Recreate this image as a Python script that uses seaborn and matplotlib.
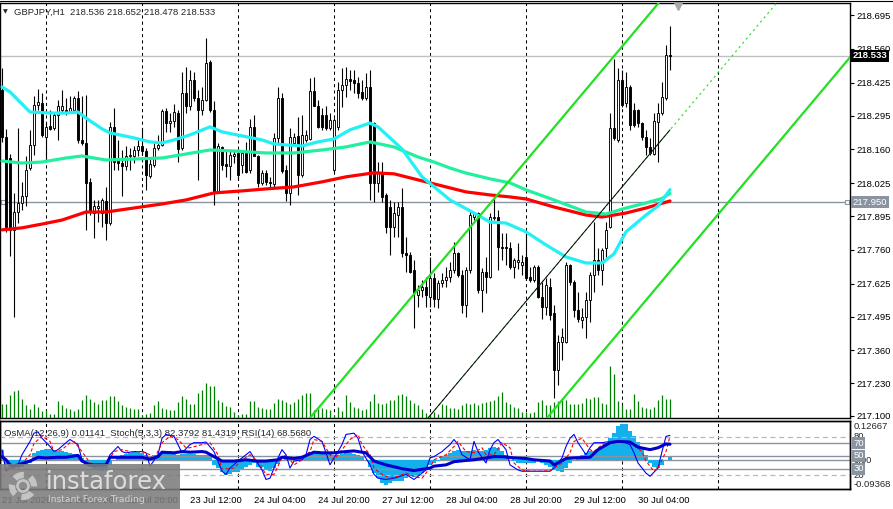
import numpy as np
import pandas as pd
import seaborn as sns
import matplotlib.pyplot as plt
import matplotlib.transforms as mtransforms
from matplotlib.patches import Rectangle, Circle
from matplotlib.lines import Line2D

# ---- candles (GBPJPY H1), bar 0 = 21 Jul 13:00 ----
opens = [218.397, 218.211, 218.125, 217.840, 217.913, 217.946, 217.973, 218.085, 218.178, 218.337,
         218.344, 218.211, 218.254, 218.245, 218.298, 218.317, 218.317, 218.311, 218.317, 218.364,
         218.198, 218.185, 218.032, 217.909, 217.926, 217.909, 217.953, 217.866, 218.251, 218.118,
         218.108, 218.095, 218.132, 218.134, 218.158, 218.172, 218.152, 218.055, 218.099, 218.165,
         218.178, 218.314, 218.264, 218.275, 218.307, 218.165, 218.384, 218.331, 218.437, 218.364,
         218.318, 218.357, 218.510, 218.318, 217.992, 218.169, 218.103, 218.095, 218.134, 218.145,
         218.099, 218.152, 218.079, 218.249, 218.134, 218.026, 218.065, 218.032, 218.023, 218.205,
         218.364, 218.079, 217.986, 218.185, 218.214, 218.059, 218.198, 218.201, 218.393, 218.333,
         218.298, 218.298, 218.245, 218.078, 218.251, 218.397, 218.417, 218.440, 218.436, 218.426,
         218.390, 218.363, 218.410, 218.264, 218.025, 218.071, 217.979, 217.932, 217.852, 217.899,
         217.932, 217.746, 217.740, 217.680, 217.580, 217.600, 217.614, 217.574, 217.647, 217.563,
         217.627, 217.640, 217.653, 217.680, 217.746, 217.660, 217.541, 217.680, 217.892, 217.906,
         217.600, 217.673, 217.653, 217.886, 217.892, 217.773, 217.773, 217.766, 217.693, 217.713,
         217.700, 217.733, 217.653, 217.640, 217.693, 217.574, 217.534, 217.614, 217.507, 217.282,
         217.395, 217.395, 217.700, 217.634, 217.521, 217.481, 217.494, 217.560, 217.660, 217.720,
         217.680, 217.766, 217.852, 218.244, 218.197, 218.436, 218.343, 218.410, 218.317, 218.317,
         218.264, 218.211, 218.171, 218.140, 218.270, 218.304, 218.363, 218.536]
highs = [218.483, 218.240, 218.140, 217.986, 218.245, 218.032, 218.132, 218.238, 218.371, 218.400,
         218.384, 218.271, 218.317, 218.311, 218.357, 218.397, 218.364, 218.371, 218.373, 218.391,
         218.371, 218.377, 218.045, 217.959, 217.959, 217.966, 218.012, 218.271, 218.324, 218.198,
         218.158, 218.172, 218.165, 218.172, 218.198, 218.245, 218.165, 218.125, 218.185, 218.218,
         218.320, 218.324, 218.304, 218.341, 218.318, 218.470, 218.490, 218.477, 218.470, 218.397,
         218.410, 218.603, 218.517, 218.351, 218.185, 218.174, 218.152, 218.152, 218.152, 218.158,
         218.158, 218.191, 218.280, 218.298, 218.138, 218.079, 218.079, 218.052, 218.225, 218.410,
         218.384, 218.099, 218.245, 218.225, 218.291, 218.298, 218.238, 218.444, 218.450, 218.357,
         218.324, 218.331, 218.304, 218.284, 218.430, 218.483, 218.489, 218.476, 218.476, 218.450,
         218.436, 218.463, 218.476, 218.271, 218.111, 218.111, 217.985, 217.959, 217.952, 217.952,
         218.005, 217.813, 217.753, 217.720, 217.620, 217.640, 217.653, 217.733, 217.667, 217.640,
         217.667, 217.693, 217.713, 217.793, 217.753, 217.680, 217.693, 217.919, 217.912, 217.912,
         217.687, 217.733, 217.906, 217.972, 217.919, 217.826, 217.826, 217.793, 217.726, 217.786,
         217.740, 217.826, 217.693, 217.700, 217.700, 217.634, 217.647, 217.647, 217.540, 217.421,
         217.448, 217.713, 217.706, 217.640, 217.594, 217.527, 217.594, 217.673, 217.872, 217.766,
         217.766, 217.872, 218.304, 218.522, 218.483, 218.476, 218.469, 218.416, 218.343, 218.323,
         218.270, 218.237, 218.204, 218.304, 218.343, 218.430, 218.576, 218.652]
lows = [218.191, 217.830, 217.734, 217.495, 217.866, 217.919, 217.933, 218.079, 218.138, 218.317,
        218.211, 218.118, 218.238, 218.238, 218.198, 218.304, 218.298, 218.304, 218.311, 218.185,
        218.178, 217.840, 217.900, 217.807, 217.873, 217.853, 217.800, 217.860, 218.079, 218.079,
        217.973, 218.079, 218.079, 218.105, 218.132, 218.138, 217.999, 218.045, 218.092, 218.158,
        218.172, 218.231, 218.231, 218.251, 218.112, 218.158, 218.304, 218.318, 218.351, 218.039,
        218.298, 218.351, 218.311, 217.939, 217.986, 218.079, 218.052, 218.039, 218.105, 218.039,
        218.065, 218.065, 218.065, 218.132, 218.012, 218.019, 218.019, 218.012, 218.012, 218.185,
        218.065, 217.953, 217.939, 218.172, 217.979, 218.052, 218.191, 218.198, 218.331, 218.245,
        218.238, 218.238, 218.238, 218.065, 218.237, 218.330, 218.370, 218.397, 218.383, 218.363,
        218.357, 218.357, 217.959, 217.952, 217.992, 217.952, 217.826, 217.740, 217.813, 217.813,
        217.733, 217.673, 217.667, 217.448, 217.534, 217.574, 217.534, 217.534, 217.534, 217.527,
        217.614, 217.614, 217.634, 217.667, 217.653, 217.507, 217.494, 217.667, 217.879, 217.587,
        217.514, 217.587, 217.647, 217.879, 217.680, 217.720, 217.700, 217.686, 217.647, 217.686,
        217.660, 217.640, 217.634, 217.634, 217.567, 217.487, 217.501, 217.481, 217.169, 217.222,
        217.322, 217.388, 217.620, 217.494, 217.474, 217.448, 217.408, 217.474, 217.594, 217.660,
        217.620, 217.733, 217.846, 218.197, 218.191, 218.330, 218.330, 218.237, 218.250, 218.250,
        218.197, 218.138, 218.138, 218.138, 218.111, 218.297, 218.357, 218.478]
closes = [218.211, 217.853, 217.840, 217.913, 217.946, 217.973, 218.079, 218.178, 218.337, 218.347,
          218.218, 218.251, 218.241, 218.298, 218.331, 218.331, 218.311, 218.324, 218.364, 218.198,
          218.185, 218.026, 217.913, 217.933, 217.935, 217.959, 217.866, 218.251, 218.112, 218.105,
          218.095, 218.132, 218.138, 218.158, 218.172, 218.152, 218.059, 218.101, 218.165, 218.178,
          218.314, 218.264, 218.275, 218.311, 218.161, 218.384, 218.331, 218.437, 218.364, 218.318,
          218.357, 218.503, 218.318, 217.992, 218.172, 218.099, 218.095, 218.138, 218.142, 218.059,
          218.145, 218.072, 218.249, 218.134, 218.026, 218.065, 218.032, 218.026, 218.205, 218.364,
          218.076, 217.986, 218.211, 218.211, 218.059, 218.218, 218.218, 218.393, 218.333, 218.251,
          218.251, 218.245, 218.278, 218.277, 218.397, 218.417, 218.440, 218.434, 218.426, 218.383,
          218.363, 218.410, 218.025, 218.025, 218.071, 217.972, 217.852, 217.852, 217.906, 217.932,
          217.746, 217.740, 217.673, 217.587, 217.600, 217.614, 217.580, 217.647, 217.563, 217.627,
          217.640, 217.653, 217.680, 217.746, 217.660, 217.541, 217.680, 217.899, 217.906, 217.600,
          217.673, 217.653, 217.892, 217.892, 217.773, 217.766, 217.766, 217.693, 217.720, 217.720,
          217.713, 217.647, 217.640, 217.693, 217.574, 217.534, 217.620, 217.501, 217.282, 217.395,
          217.414, 217.700, 217.634, 217.521, 217.487, 217.494, 217.560, 217.660, 217.720, 217.680,
          217.760, 217.839, 218.244, 218.204, 218.436, 218.337, 218.410, 218.257, 218.257, 218.264,
          218.211, 218.171, 218.144, 218.273, 218.304, 218.370, 218.536, 218.533]
tick_volume = [43, 43, 68, 81, 85, 58, 38, 28, 43, 33, 20, 25, 11, 11, 51, 38, 31, 28, 20, 28,
               55, 70, 56, 48, 43, 53, 55, 67, 67, 51, 40, 33, 31, 26, 26, 8, 11, 15, 38, 50,
               31, 28, 25, 23, 48, 65, 56, 43, 43, 76, 83, 106, 95, 95, 55, 48, 36, 33, 18, 8,
               11, 13, 50, 50, 33, 31, 28, 28, 46, 58, 55, 48, 43, 48, 58, 68, 74, 74, 23, 28,
               30, 28, 23, 8, 33, 20, 68, 48, 33, 30, 25, 26, 52, 71, 46, 43, 45, 55, 55, 68,
               71, 66, 53, 46, 38, 26, 16, 11, 18, 13, 43, 38, 30, 30, 26, 38, 46, 43, 45, 38,
               45, 48, 50, 55, 66, 78, 48, 41, 32, 30, 18, 18, 15, 18, 48, 53, 40, 38, 48, 51,
               60, 53, 43, 43, 43, 45, 61, 58, 63, 63, 45, 43, 155, 133, 51, 38, 28, 28, 73, 51,
               33, 30, 26, 33, 53, 68, 58, 58]

# ---- moving averages (bar, price) ----
ma_fast_t = [0, 2, 5, 7, 12, 16, 19, 21, 25, 27, 33, 37, 40, 43, 47, 52, 55, 60, 65, 68,
             71, 75, 79, 83, 87, 92, 94, 100, 105, 112, 118, 122, 126, 131, 136, 141, 146, 150, 153, 156,
             161, 164, 167]
ma_fast = [218.409, 218.389, 218.341, 218.309, 218.305, 218.305, 218.309, 218.285, 218.242, 218.226,
           218.206, 218.190, 218.186, 218.198, 218.218, 218.250, 218.230, 218.214, 218.198, 218.182,
           218.178, 218.174, 218.190, 218.202, 218.238, 218.265, 218.250, 218.162, 218.051, 217.959,
           217.907, 217.871, 217.867, 217.832, 217.780, 217.732, 217.708, 217.708, 217.744, 217.832,
           217.899, 217.935, 218.000]
ma_mid_t = [0, 5, 10, 16, 20, 26, 33, 40, 46, 52, 58, 66, 73, 80, 86, 92, 98, 104, 108, 112,
            116, 122, 127, 131, 138, 146, 151, 156, 161, 165, 167]
ma_mid = [218.114, 218.106, 218.110, 218.126, 218.134, 218.118, 218.122, 218.126, 218.142, 218.158,
          218.154, 218.146, 218.146, 218.158, 218.170, 218.190, 218.170, 218.130, 218.110, 218.086,
          218.066, 218.043, 218.027, 217.999, 217.959, 217.911, 217.903, 217.927, 217.947, 217.965,
          217.985]
ma_slow_t = [0, 5, 10, 15, 21, 26, 33, 40, 46, 53, 60, 66, 73, 80, 86, 93, 98, 104, 112, 116,
             122, 127, 131, 138, 146, 150, 156, 161, 167]
ma_slow = [217.840, 217.848, 217.863, 217.879, 217.911, 217.911, 217.927, 217.943, 217.959, 217.987,
           217.995, 218.003, 218.011, 218.031, 218.051, 218.067, 218.063, 218.039, 218.007, 217.991,
           217.979, 217.971, 217.963, 217.931, 217.899, 217.891, 217.907, 217.927, 217.955]

# ---- oscillators ----
osma = [0.033, -0.015, -0.021, -0.021, -0.021, -0.021, -0.015, -0.010, 0.023, 0.028,
        0.033, 0.036, 0.037, 0.033, 0.028, 0.028, 0.025, 0.023, 0.021, 0.015,
        0.006, -0.015, -0.024, -0.028, -0.031, -0.035, -0.031, -0.015, 0.001, 0.012,
        0.017, 0.019, 0.022, 0.025, 0.025, 0.023, 0.015, 0.012, 0.015, 0.017,
        0.023, 0.028, 0.028, 0.026, 0.017, 0.019, 0.019, 0.019, 0.019, 0.017,
        0.017, 0.017, 0.015, -0.015, -0.026, -0.037, -0.048, -0.045, -0.037, -0.037,
        -0.031, -0.024, -0.015, -0.010, -0.021, -0.024, -0.031, -0.035, -0.026, -0.013,
        0.001, 0.009, 0.006, 0.001, 0.006, 0.012, 0.017, 0.025, 0.028, 0.028,
        0.026, 0.026, 0.023, 0.017, 0.015, 0.019, 0.023, 0.023, 0.021, 0.017,
        0.012, 0.001, -0.021, -0.042, -0.058, -0.075, -0.080, -0.075, -0.069, -0.069,
        -0.067, -0.058, -0.053, -0.056, -0.050, -0.042, -0.031, -0.015, -0.010, -0.004,
        0.009, 0.017, 0.023, 0.028, 0.033, 0.028, 0.028, 0.028, 0.033, 0.028,
        0.028, 0.033, 0.039, 0.044, 0.039, 0.028, 0.017, 0.001, -0.004, -0.008,
        -0.008, -0.008, -0.010, -0.008, -0.004, -0.010, -0.015, -0.021, -0.031, -0.035,
        -0.037, -0.026, -0.010, 0.001, 0.009, 0.017, 0.023, 0.028, 0.028, 0.033,
        0.039, 0.050, 0.071, 0.087, 0.109, 0.118, 0.118, 0.093, 0.077, 0.060,
        0.044, 0.017, -0.010, -0.021, -0.026, -0.015, 0.001, 0.01141]
stoch_t = [0, 1, 2, 4, 5, 7, 8, 9, 10, 12, 13, 14, 16, 17, 19, 20, 21, 23, 25, 26,
           27, 29, 30, 31, 33, 35, 36, 37, 39, 40, 41, 43, 44, 45, 47, 48, 50, 51, 53, 55,
           56, 57, 59, 61, 62, 63, 65, 66, 67, 69, 70, 71, 72, 73, 75, 76, 77, 78, 80, 81,
           82, 83, 84, 85, 86, 88, 89, 90, 92, 93, 94, 96, 98, 101, 103, 104, 106, 107, 108, 110,
           112, 113, 114, 115, 117, 118, 119, 121, 122, 123, 124, 126, 127, 129, 130, 132, 134, 137, 138, 140,
           141, 142, 143, 144, 146, 147, 148, 150, 152, 153, 155, 157, 158, 159, 161, 162, 164, 165, 166, 167]
stoch_main = [60, 26, 31, 36, 52, 73, 86, 88, 78, 65, 57, 60, 71, 76, 68, 44, 36, 34, 36, 36,
              52, 65, 57, 55, 57, 57, 55, 34, 52, 78, 84, 81, 68, 55, 68, 71, 71, 72, 57, 26,
              21, 31, 42, 52, 57, 47, 28, 13, 15, 47, 60, 52, 31, 42, 44, 52, 76, 81, 73, 55,
              36, 47, 57, 68, 84, 86, 78, 57, 36, 21, 15, 13, 15, 21, 13, 18, 28, 47, 49, 57,
              68, 76, 68, 52, 44, 73, 57, 39, 60, 71, 76, 60, 36, 28, 26, 26, 26, 26, 31, 47,
              65, 78, 84, 71, 52, 63, 71, 71, 73, 73, 73, 68, 55, 39, 23, 18, 31, 57, 81, 82.3792]
signal_t = [1, 4, 7, 8, 10, 12, 13, 15, 17, 18, 20, 22, 24, 26, 28, 30, 32, 35, 37, 38,
            40, 42, 44, 46, 47, 50, 52, 54, 55, 58, 60, 62, 64, 66, 68, 70, 71, 73, 75, 77,
            78, 80, 82, 83, 85, 87, 89, 90, 92, 93, 95, 97, 99, 101, 103, 105, 107, 108, 111, 113,
            114, 116, 118, 120, 121, 123, 125, 127, 128, 130, 132, 135, 137, 140, 142, 143, 145, 147, 148, 150,
            152, 155, 157, 160, 161, 163, 164, 166, 167]
stoch_signal = [31, 31, 52, 70, 81, 73, 57, 60, 71, 73, 57, 39, 34, 36, 57, 60, 57, 57, 52, 44,
                71, 81, 76, 63, 63, 68, 71, 52, 29, 31, 44, 52, 41, 21, 21, 47, 52, 36, 44, 57,
                76, 73, 52, 44, 60, 76, 84, 68, 52, 31, 21, 15, 18, 23, 18, 15, 31, 44, 52, 65,
                73, 57, 55, 63, 52, 52, 71, 63, 39, 28, 26, 26, 27, 39, 55, 73, 78, 60, 57, 68,
                72, 73, 71, 57, 42, 26, 31, 57, 81.4319]
rsi_t = [0, 1, 2, 3, 4, 7, 9, 11, 14, 16, 19, 20, 22, 25, 26, 27, 30, 33, 35, 37,
         39, 40, 43, 45, 47, 50, 51, 53, 55, 58, 61, 64, 66, 69, 70, 73, 75, 78, 80, 83,
         86, 88, 91, 93, 96, 100, 103, 107, 108, 111, 113, 116, 118, 121, 123, 125, 128, 131, 133, 137,
         138, 141, 143, 147, 149, 152, 154, 157, 159, 162, 164, 166, 167]
rsi = [49, 44, 36, 34, 36, 42, 48, 47, 48, 48, 51, 42, 36, 36, 36, 48, 48, 48, 48, 45,
       49, 56, 55, 57, 56, 57, 56, 49, 42, 42, 44, 42, 42, 44, 48, 46, 48, 56, 55, 55,
       57, 58, 55, 42, 36, 30, 27, 31, 34, 36, 41, 43, 44, 47, 49, 49, 47, 46, 44, 42,
       36, 46, 47, 48, 60, 71, 73, 72, 64, 60, 63, 69, 68.568]

# ---- axes text / objects ----
price_ticks = [218.695, 218.560, 218.425, 218.295, 218.160, 218.025, 217.895,
               217.760, 217.625, 217.495, 217.360, 217.230, 217.100]
time_ticks = [0, 15, 31, 47, 63, 79, 95, 111, 127, 143, 159]
time_labels = ["21 Jul 2026", "22 Jul 04:00", "22 Jul 20:00", "23 Jul 12:00", "24 Jul 04:00",
               "24 Jul 20:00", "27 Jul 12:00", "28 Jul 04:00", "28 Jul 20:00", "29 Jul 12:00",
               "30 Jul 04:00"]
day_starts = [11, 35, 59, 83, 107, 131, 155, 179]
bid_price = 218.533
marked_level = 217.950
channel_t = [77.0, 164.0]
channel_p = [217.091, 218.740]
channel_shift = [0.0, -0.559, -1.123]
trend_t = [106.5, 167.0]
trend_p = [217.091, 218.238]
osma_range = (-0.09368, 0.12667)

sns.set_style("white")
plt.rcParams['font.family'] = ['Liberation Sans', 'DejaVu Sans']
FS = 6.8
W, H = 893, 509

fig = plt.figure(figsize=(W / 100, H / 100), dpi=100)
fig.patch.set_facecolor('white')
ax = fig.add_axes([0, 91 / H, 850 / W, 415 / H])
axo = fig.add_axes([0, 20 / H, 850 / W, 68 / H], sharex=ax)

df = pd.DataFrame({'open': opens, 'high': highs, 'low': lows, 'close': closes, 'vol': tick_volume})
df['bar'] = np.arange(len(df))

ax.set_xlim(-0.5, 212)
ax.set_ylim(217.091, 218.743)

for d in day_starts:
    for a in (ax, axo):
        a.axvline(d, color='black', lw=0.75, ls=(0, (3, 3)), zorder=1)

ax.axhline(bid_price, color='#c0c0c0', lw=1, zorder=1.2)
ax.axhline(marked_level, color='#8a94a0', lw=1, zorder=1.2)
ax.plot([0.2, 211.3], [marked_level, marked_level], ls='none', marker='s', ms=3.2,
        mfc='white', mec='#8a94a0', mew=0.8, zorder=1.3, clip_on=False)

# volumes along the bottom of the price window
ax.vlines(df['bar'], 0, df['vol'] / 1245, transform=ax.get_xaxis_transform(),
          color='#008000', lw=0.9, zorder=1.5)

# candles
up = df['close'] >= df['open']
ax.vlines(df['bar'], df['low'], df['high'], color='black', lw=0.8, zorder=2)
body = (df['close'] - df['open']).abs().clip(lower=0.003)
ax.bar(df['bar'], body, bottom=df[['open', 'close']].min(axis=1), width=0.62,
       color=np.where(up, 'white', 'black'), edgecolor='black', linewidth=0.65, zorder=2.5)

# moving averages
sns.lineplot(x=ma_slow_t, y=ma_slow, ax=ax, color='#ff0000', linewidth=2.3, zorder=3)
sns.lineplot(x=ma_mid_t, y=ma_mid, ax=ax, color='#22f0a0', linewidth=2.3, zorder=3.1)
sns.lineplot(x=ma_fast_t, y=ma_fast, ax=ax, color='#22f0f4', linewidth=2.3, zorder=3.2)

# equidistant channel + trendline
for k, s in enumerate(channel_shift):
    p0 = (channel_t[0], channel_p[0] + s)
    p1 = (channel_t[1], channel_p[1] + s)
    if k == 1:
        ax.axline(p0, p1, color='#22dd22', lw=0.8, ls=(0, (2, 3)), zorder=4)
    else:
        ax.axline(p0, p1, color='#22e022', lw=1.6, zorder=4)
ax.plot(trend_t, trend_p, color='black', lw=0.7, zorder=4.1)

# chart shift marker
ax.plot([169], [218.733], marker='v', ms=5.5, color='#a8a8a8', clip_on=False, zorder=6)

# price scale on the right
ax.yaxis.tick_right()
ax.set_yticks(price_ticks)
ax.set_yticklabels([f"{p:.3f}" for p in price_ticks])
ax.tick_params(axis='y', direction='out', length=3, width=0.8, pad=2, labelsize=FS,
               colors='black', right=True, left=False)
ax.tick_params(axis='x', bottom=False, labelbottom=False)
ax.set_xlabel('')
ax.set_ylabel('')
for sp in ax.spines.values():
    sp.set_color('black')
    sp.set_linewidth(1)

tr = mtransforms.blended_transform_factory(ax.transAxes, ax.transData)
ax.text(1.003, bid_price, f"{bid_price:.3f}", transform=tr, color='white', fontsize=FS,
        fontweight='bold', va='center', ha='left', clip_on=False, zorder=10,
        bbox=dict(boxstyle='square,pad=0.18', fc='black', ec='none'))
ax.text(1.003, marked_level, f"{marked_level:.3f}", transform=tr, color='white', fontsize=FS,
        va='center', ha='left', clip_on=False, zorder=10,
        bbox=dict(boxstyle='square,pad=0.18', fc='#8a94a0', ec='none'))

# ---- oscillator window ----
axo.set_ylim(*osma_range)
axo.bar(df['bar'], osma, width=0.8, color='#12b0ec', linewidth=0, zorder=2)
axo.axhline(0, color='#8a94a0', lw=1, zorder=1.5)
axr = axo.twinx()
axr.set_ylim(-2.05, 105.2)
for lv in (70, 50, 30):
    axr.axhline(lv, color='#8a94a0', lw=1, zorder=1)
for lv in (80, 20):
    axr.axhline(lv, color='#b8b8b8', lw=0.9, ls=(0, (4, 3)), zorder=1)
sns.lineplot(x=stoch_t, y=stoch_main, ax=axr, color='#0000ff', linewidth=0.8, zorder=3)
sns.lineplot(x=signal_t, y=stoch_signal, ax=axr, color='#ff0000', linewidth=0.8,
             linestyle=(0, (3, 2)), zorder=3.1)
sns.lineplot(x=rsi_t, y=rsi, ax=axr, color='#0000cd', linewidth=2.2, zorder=3.2)
axo.set_xlim(-0.5, 212)

for a in (axo, axr):
    a.set_ylabel('')
    a.tick_params(axis='y', left=False, right=False, labelleft=False, labelright=False)
    for sp in a.spines.values():
        sp.set_color('black')
        sp.set_linewidth(1)
axo.set_xticks(time_ticks)
axo.set_xticklabels(time_labels)
axo.tick_params(axis='x', direction='out', length=3, width=0.8, pad=2, labelsize=FS, colors='black')
for lab in axo.get_xticklabels():
    lab.set_ha('left')
axr.tick_params(axis='x', bottom=False, labelbottom=False)

tro = mtransforms.blended_transform_factory(axo.transAxes, axo.transData)
trr = mtransforms.blended_transform_factory(axr.transAxes, axr.transData)
axo.text(1.004, 0.1245, "0.12667", transform=tro, fontsize=FS, va='top', ha='left', clip_on=False)
axo.text(1.004, 0.0, "0.00", transform=tro, fontsize=FS, va='center', ha='left', clip_on=False)
axo.text(1.004, -0.0925, "-0.09368", transform=tro, fontsize=FS, va='bottom', ha='left', clip_on=False)
axr.text(1.004, 80, "80", transform=trr, fontsize=FS, va='center', ha='left', clip_on=False)
axr.text(1.004, 20, "20", transform=trr, fontsize=FS, va='center', ha='left', clip_on=False)
for lv in (70, 50, 30):
    axr.text(1.004, lv, str(lv), transform=trr, fontsize=FS, va='center', ha='left', color='white',
             clip_on=False, zorder=10, bbox=dict(boxstyle='square,pad=0.15', fc='#8a94a0', ec='none'))

# ---- titles ----
fig.text(3 / W, 1 - 12 / H, "\u25bc", fontsize=4.5, va='center', ha='left', family='DejaVu Sans')
fig.text(14 / W, 1 - 12 / H, "GBPJPY,H1  218.536 218.652 218.478 218.533", fontsize=FS,
         va='center', ha='left')
fig.text(4 / W, 1 - 433 / H,
         "OsMA(12,26,9) 0.01141  Stoch(5,3,3) 82.3792 81.4319  RSI(14) 68.5680",
         fontsize=FS, va='center', ha='left')
fig.add_artist(Line2D([0, 1], [1 - 0.5 / H, 1 - 0.5 / H], transform=fig.transFigure,
                      color='black', lw=0.8))

# ---- watermark ----
fig.add_artist(Rectangle((0, 0), 180 / W, 45 / H, transform=fig.transFigure,
                         fc='#7c7c7c', ec='none', alpha=0.88, zorder=20))
fig.add_artist(Circle((23, H - 486), 11, transform=mtransforms.IdentityTransform(),
                      fill=False, ec='#c4c4c4', lw=4.5, ls=(0, (1.6, 1.1)), zorder=21))
fig.add_artist(Circle((23, H - 486), 5.5, transform=mtransforms.IdentityTransform(),
                      fill=False, ec='#c4c4c4', lw=2, zorder=21))
fig.text(46 / W, 1 - 482 / H, "instaforex", fontsize=17.5, color='#dcdcdc', va='center',
         ha='left', family='DejaVu Sans', zorder=22)
fig.text(48 / W, 1 - 500 / H, "Instant Forex Trading", fontsize=6.6, color='#d4d4d4',
         va='center', ha='left', family='DejaVu Sans', zorder=22)

fig.savefig('out.png', dpi=100)
